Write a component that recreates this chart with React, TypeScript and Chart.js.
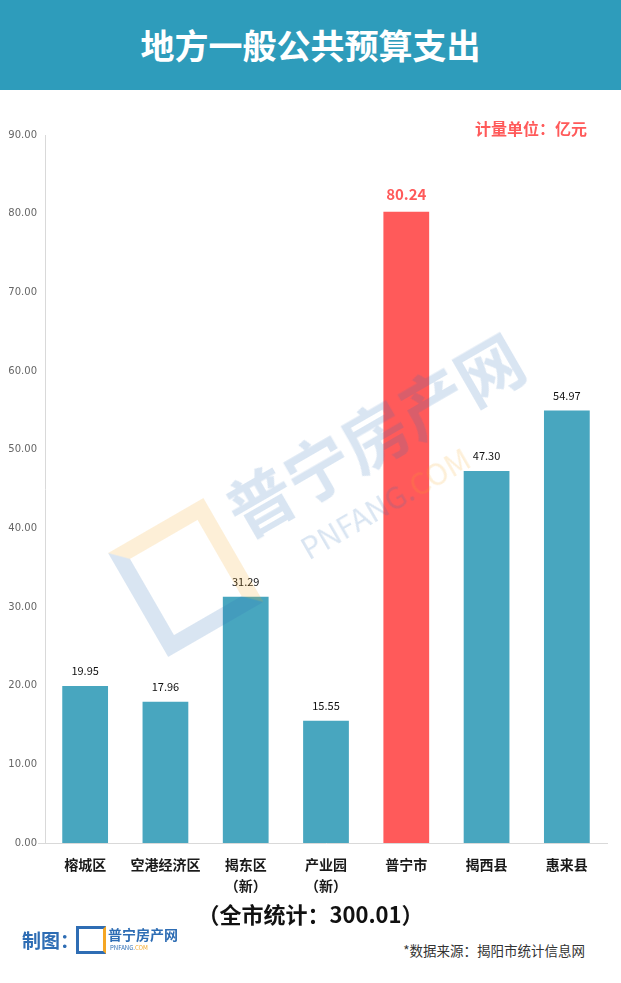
import React, { useEffect, useRef } from "react";
import { Chart, registerables } from "chart.js";

Chart.register(...registerables);

const categories: (string | string[])[] = [
  "榕城区",
  "空港经济区",
  ["揭东区", "（新）"],
  ["产业园", "（新）"],
  "普宁市",
  "揭西县",
  "惠来县",
];
const values: number[] = [19.95, 17.96, 31.29, 15.55, 80.24, 47.3, 54.97];
const highlightIndex = 4;
const yMax = 90;
const yStep = 10;
const title = "地方一般公共预算支出";
const unitText = "计量单位：亿元";
const totalText = "（全市统计：300.01）";
const sourceText = "*数据来源：揭阳市统计信息网";

const TEAL = "#48A6BF";
const RED = "#FF5A5A";
const CJK = '"Noto Sans CJK SC", "Noto Sans", sans-serif';

const valueLabelPlugin = {
  id: "valueLabels",
  afterDatasetsDraw(chart: any) {
    const ctx = chart.ctx;
    const meta = chart.getDatasetMeta(0);
    ctx.save();
    ctx.textAlign = "center";
    ctx.textBaseline = "middle";
    meta.data.forEach((bar: any, i: number) => {
      const v = values[i];
      if (i === highlightIndex) {
        ctx.font = `bold 15px ${CJK}`;
        ctx.fillStyle = RED;
        ctx.fillText(v.toFixed(2), bar.x, bar.y - 17);
      } else {
        ctx.font = `11px ${CJK}`;
        ctx.fillStyle = "#111";
        ctx.fillText(v.toFixed(2), bar.x, bar.y - 15);
      }
    });
    // extend x-axis baseline a little to the left, as in the reference
    const area = chart.chartArea;
    ctx.strokeStyle = "#d9d9d9";
    ctx.lineWidth = 1;
    ctx.beginPath();
    ctx.moveTo(area.left - 7, Math.round(area.bottom) + 0.5);
    ctx.lineTo(area.left, Math.round(area.bottom) + 0.5);
    ctx.stroke();
    ctx.restore();
  },
};

function BarChart() {
  const ref = useRef<HTMLCanvasElement>(null);
  useEffect(() => {
    if (!ref.current) return;
    const chart = new Chart(ref.current, {
      type: "bar",
      data: {
        labels: categories,
        datasets: [
          {
            data: values,
            backgroundColor: values.map((_, i) => (i === highlightIndex ? RED : TEAL)),
            barPercentage: 0.57,
            categoryPercentage: 1,
          },
        ],
      },
      options: {
        animation: false,
        responsive: false,
        maintainAspectRatio: false,
        layout: { padding: { top: 35, right: 14, left: 0, bottom: 0 } },
        plugins: { legend: { display: false }, tooltip: { enabled: false } },
        scales: {
          y: {
            min: 0,
            max: yMax,
            afterFit: (s: any) => {
              s.width = 45;
            },
            ticks: {
              stepSize: yStep,
              padding: 8,
              color: "#666",
              font: { family: '"DejaVu Sans", sans-serif', size: 10 },
              callback: (v: any) => Number(v).toFixed(2),
            },
            grid: { display: false, drawTicks: false },
            border: { display: true, color: "#d9d9d9", width: 1 },
          },
          x: {
            afterFit: (s: any) => {
              s.height = 57;
            },
            ticks: {
              color: "#1a1a1a",
              padding: 12,
              font: { family: CJK, size: 14, weight: "bold", lineHeight: 1.45 },
              maxRotation: 0,
              autoSkip: false,
            },
            grid: { display: false, drawTicks: false },
            border: { display: true, color: "#d9d9d9", width: 1 },
          },
        },
      },
      plugins: [valueLabelPlugin],
    } as any);
    return () => chart.destroy();
  }, []);
  return (
    <canvas
      ref={ref}
      width={621}
      height={800}
      style={{ position: "absolute", left: 0, top: 100, width: 621, height: 800 }}
    />
  );
}

export default function App() {
  return (
    <div
      style={{
        position: "fixed",
        left: 0,
        top: 0,
        width: 621,
        height: 983,
        background: "#fff",
        overflow: "hidden",
        fontFamily: CJK,
      }}
    >
      <div
        style={{
          position: "absolute",
          left: 0,
          top: 0,
          width: 621,
          height: 90,
          background: "#2E9CBB",
          color: "#fff",
          fontWeight: "bold",
          fontSize: 34,
          lineHeight: "90px",
          textAlign: "center",
        }}
      >
        {title}
      </div>
      <BarChart />
      {/* faint watermark drawn over the chart */}
      <div
        style={{
          position: "absolute",
          left: 110,
          top: 400,
          width: 420,
          height: 200,
          transform: "rotate(-30deg)",
          opacity: 0.18,
          pointerEvents: "none",
        }}
      >
        <div
          style={{
            position: "absolute",
            left: 0,
            top: 40,
            width: 110,
            height: 120,
            border: "16px solid #2E6DB4",
            borderRightColor: "#F5A623",
            borderTopColor: "#F5A623",
            boxSizing: "border-box",
          }}
        />
        <div
          style={{
            position: "absolute",
            left: 125,
            top: 20,
            fontSize: 66,
            fontWeight: "bold",
            color: "#2E6DB4",
            whiteSpace: "nowrap",
          }}
        >
          普宁房产网
        </div>
        <div
          style={{
            position: "absolute",
            left: 170,
            top: 112,
            fontSize: 30,
            color: "#2E6DB4",
            whiteSpace: "nowrap",
          }}
        >
          PNFANG.<span style={{ color: "#F5A623" }}>COM</span>
        </div>
      </div>
      <div
        style={{
          position: "absolute",
          right: 34,
          top: 116,
          color: RED,
          fontWeight: "bold",
          fontSize: 16,
          whiteSpace: "nowrap",
        }}
      >
        {unitText}
      </div>
      <div
        style={{
          position: "absolute",
          left: 0,
          width: 621,
          top: 898,
          textAlign: "center",
          fontWeight: "bold",
          fontSize: 22,
          color: "#111",
          lineHeight: "30px",
        }}
      >
        {totalText}
      </div>
      <div
        style={{
          position: "absolute",
          left: 22,
          top: 927,
          fontWeight: "bold",
          fontSize: 19,
          color: "#2E6DB4",
          whiteSpace: "nowrap",
          lineHeight: "26px",
        }}
      >
        制图：
      </div>
      <div
        style={{
          position: "absolute",
          left: 76,
          top: 926,
          width: 30,
          height: 28,
          border: "3px solid #2E6DB4",
          borderRightColor: "#F5A623",
          boxSizing: "border-box",
        }}
      />
      <div
        style={{
          position: "absolute",
          left: 108,
          top: 925,
          fontWeight: "bold",
          fontSize: 14,
          color: "#2E6DB4",
          whiteSpace: "nowrap",
          lineHeight: "18px",
        }}
      >
        普宁房产网
      </div>
      <div
        style={{
          position: "absolute",
          left: 110,
          top: 944,
          fontSize: 6,
          color: "#2E6DB4",
          whiteSpace: "nowrap",
          lineHeight: "8px",
        }}
      >
        PNFANG.<span style={{ color: "#F5A623" }}>COM</span>
      </div>
      <div
        style={{
          position: "absolute",
          right: 36,
          top: 940,
          fontSize: 13.5,
          color: "#333",
          whiteSpace: "nowrap",
          lineHeight: "20px",
        }}
      >
        {sourceText}
      </div>
    </div>
  );
}
